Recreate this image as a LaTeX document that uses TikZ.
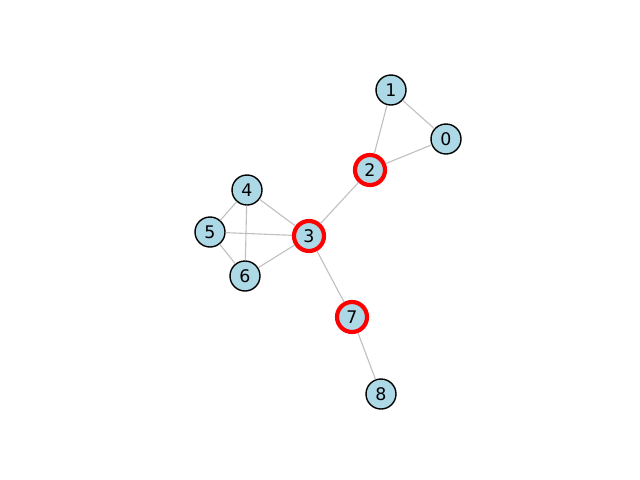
\documentclass[tikz,border=0pt]{standalone}
\usepackage{fontspec}
\setmainfont{DejaVu Sans}
\usepackage{tikz}
\usetikzlibrary{arrows}
\usetikzlibrary{positioning}
\definecolor{nodeblue}{HTML}{ADD8E6}
\definecolor{edgegray}{HTML}{C0C0C0}
\begin{document}
\begin{tikzpicture}[x=0.72pt,y=-0.72pt]

	\useasboundingbox (0,0) rectangle (640,480);

	\tikzset{VertexStyle/.style = {shape          = circle,
			fill     = nodeblue,
			draw     = black,
			line width = 1pt,
			inner sep = 0pt,
			minimum size   = 21.6pt,
			font = \fontsize{12.5}{14}\selectfont}}
	\tikzset{MarkedStyle/.style = {VertexStyle,
			draw = red,
			line width = 3pt}}
	\tikzset{EdgeStyle/.style   = {draw = edgegray, line width = 0.8pt}}

	\node[VertexStyle](0) at (446,139){0};
	\node[VertexStyle](1) at (391,90){1};
	\node[MarkedStyle](2) at (370,170){2};
	\node[MarkedStyle](3) at (309,236){3};
	\node[VertexStyle](4) at (247,190){4};
	\node[VertexStyle](5) at (210,232){5};
	\node[VertexStyle](6) at (245,276){6};
	\node[MarkedStyle](7) at (352,317){7};
	\node[VertexStyle](8) at (381,394){8};

	\draw[EdgeStyle](0) -- (1);
	\draw[EdgeStyle](0) -- (2);
	\draw[EdgeStyle](1) -- (2);
	\draw[EdgeStyle](2) -- (3);
	\draw[EdgeStyle](3) -- (4);
	\draw[EdgeStyle](3) -- (5);
	\draw[EdgeStyle](3) -- (6);
	\draw[EdgeStyle](4) -- (5);
	\draw[EdgeStyle](4) -- (6);
	\draw[EdgeStyle](5) -- (6);
	\draw[EdgeStyle](3) -- (7);
	\draw[EdgeStyle](7) -- (8);
\end{tikzpicture}
\end{document}
